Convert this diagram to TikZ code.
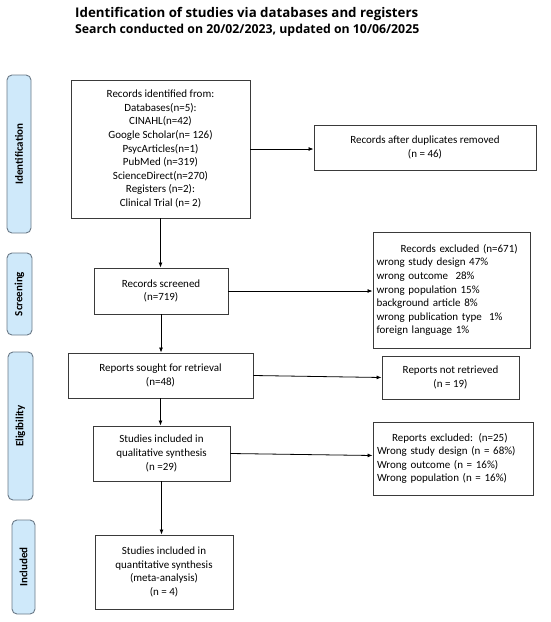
\documentclass[tikz,border=0pt]{standalone}
\usepackage{fontspec}
\setmainfont{Carlito}
\newfontfamily\titlefont{Open Sans}
\usetikzlibrary{arrows.meta}
\definecolor{phasefill}{HTML}{CFE9FA}
\definecolor{phasedraw}{HTML}{6B7A88}
\definecolor{boxdraw}{HTML}{3A3A3A}
\begin{document}
\begin{tikzpicture}[x=1pt,y=-1pt,
  flowbox/.style={draw=boxdraw,line width=0.9pt,inner sep=0pt,align=center,
    font=\fontsize{11}{13.6}\selectfont},
  leftbox/.style={flowbox,align=left},
  phase/.style={draw=phasedraw,fill=phasefill,line width=0.9pt,rounded corners=5pt,
    rotate=90,inner sep=0pt,font=\fontsize{11}{12}\selectfont\bfseries},
  arr/.style={line width=0.8pt,-{Latex[length=5pt,width=4pt]}}]
\useasboundingbox (0,0) rectangle (550,622);
\fill[white] (0,0) rectangle (550,622);
% titles
\node[anchor=west,inner sep=0pt,font=\titlefont\fontsize{13.3}{15}\selectfont\bfseries] (title) at (75,14)
  {Identification of studies via databases and registers};
\node[anchor=west,inner sep=0pt,font=\titlefont\fontsize{12.3}{13}\selectfont\bfseries] (subtitle) at (75,30.5)
  {Search conducted on 20/02/2023, updated on 10/06/2025};
% phases
\node[phase,minimum width=158pt,minimum height=24pt] (p1) at (19,154) {Identification};
\node[phase,minimum width=82pt,minimum height=25pt] (p2) at (19.5,294) {Screening};
\node[phase,minimum width=148pt,minimum height=25pt] (p3) at (20.5,426) {Eligibility};
\node[phase,minimum width=94pt,minimum height=23pt] (p4) at (23.5,567) {Included};
% main boxes
\node[flowbox,minimum width=179pt,minimum height=138pt] (ident) at (160.5,149)
  {Records identified from:\\Databases(n=5):\\CINAHL(n=42)\\Google Scholar(n= 126)\\PsycArticles(n=1)\\PubMed (n=319)\\ScienceDirect(n=270)\\Registers (n=2):\\Clinical Trial (n= 2)};
\node[flowbox,minimum width=222pt,minimum height=45pt] (dup) at (425,147.5)
  {Records after duplicates removed\\(n = 46)};
\node[flowbox,minimum width=134pt,minimum height=46pt] (screen) at (161,291)
  {Records screened\\(n=719)};
\node[leftbox,minimum width=157pt,minimum height=116pt,text width=150pt] (excl) at (451.5,290)
  {\hspace*{24pt}Records excluded (n=671)\\wrong study design 47\%\\wrong outcome\ \ 28\%\\wrong population 15\%\\background article 8\%\\wrong publication type\ \ 1\%\\foreign language 1\%};
\node[flowbox,minimum width=185pt,minimum height=45pt] (sought) at (160.5,375.5)
  {Reports sought for retrieval\\(n=48)};
\node[flowbox,minimum width=137pt,minimum height=43pt] (notret) at (450.5,377.5)
  {Reports not retrieved\\(n = 19)};
\node[flowbox,minimum width=137pt,minimum height=55pt] (qual) at (161.5,453.5)
  {Studies included in\\qualitative synthesis\\(n =29)};
\node[leftbox,minimum width=160pt,minimum height=73pt,text width=152pt] (rexcl) at (453,458.5)
  {\hspace*{15pt}Reports excluded: (n=25)\\Wrong study design (n = 68\%)\\Wrong outcome (n = 16\%)\\Wrong population (n = 16\%)};
\node[flowbox,minimum width=138pt,minimum height=74pt] (quant) at (164,572)
  {Studies included in\\quantitative synthesis\\(meta-analysis)\\(n = 4)};
% arrows
\draw[arr] (ident.south) -- (ident.south |- screen.north);
\draw[arr] (screen.south) -- (screen.south |- sought.north);
\draw[arr] (sought.south) -- (sought.south |- qual.north);
\draw[arr] (qual.south) -- (qual.south |- quant.north);
\draw[arr] (ident.east) -- (ident.east -| dup.west);
\draw[arr] (screen.east) -- (screen.east -| excl.west);
\draw[arr] (sought.east) -- (notret.west);
\draw[arr] (qual.east) -- ([yshift=-2pt]qual.east -| rexcl.west);
\end{tikzpicture}
\end{document}
